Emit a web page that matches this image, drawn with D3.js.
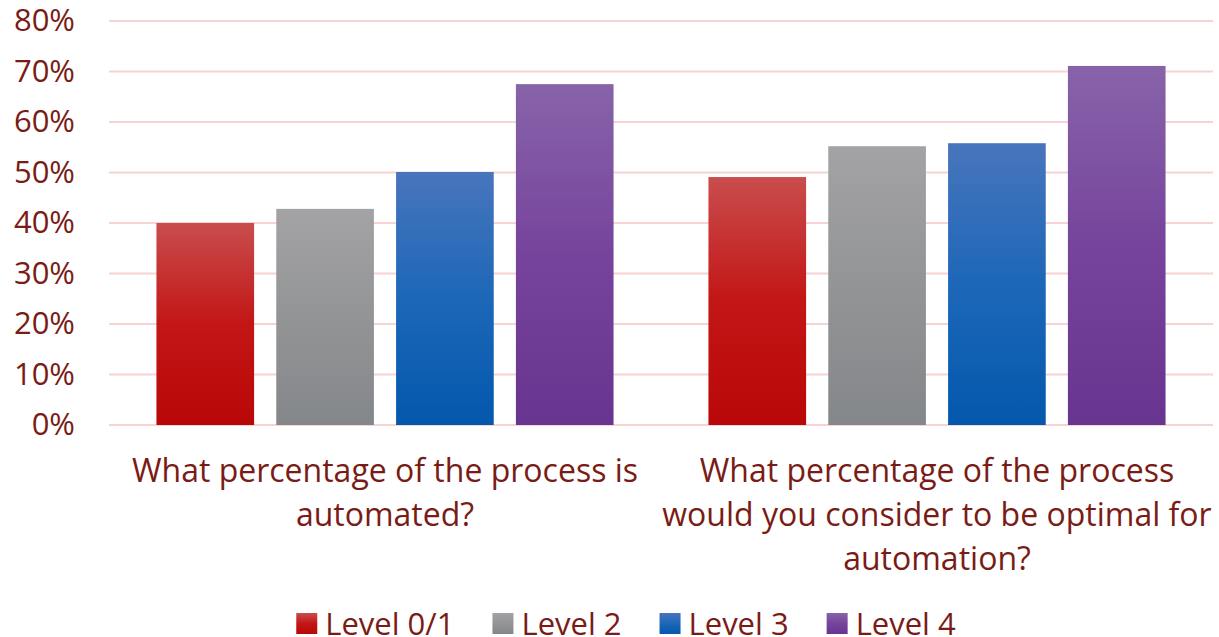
<!DOCTYPE html>
<html>
<head>
<meta charset="utf-8">
<script src="https://cdn.jsdelivr.net/npm/d3@7"></script>
<style>
  body { margin: 0; background: #fff; }
  text { font-family: "Open Sans", sans-serif; fill: #7a1c16; }
</style>
</head>
<body>
<div id="chart"></div>
<script>
// data
var categories = ["automated", "optimal"];
var categoryLines = [
  ["What percentage of the process is", "automated?"],
  ["What percentage of the process", "would you consider to be optimal for", "automation?"]
];
var seriesNames = ["Level 0/1", "Level 2", "Level 3", "Level 4"];
var values = [
  [0.400, 0.428, 0.501, 0.675],   // automated
  [0.491, 0.552, 0.558, 0.711]    // optimal
];
var yTicks = [0, 0.1, 0.2, 0.3, 0.4, 0.5, 0.6, 0.7, 0.8];

// gradient stops per series (top -> bottom)
var gradStops = [
  ["#c94d4d", "#c31616", "#b90707"],
  ["#a3a3a5", "#939496", "#84878a"],
  ["#4875bc", "#1d67b8", "#0358ad"],
  ["#8763a9", "#76449c", "#67358f"]
];

var width = 1219, height = 637;
var plotLeft = 109, plotRight = 1213, plotTop = 21, plotBottom = 425;
var fontSize = 31;

var svg = d3.select("#chart").append("svg")
  .attr("width", width)
  .attr("height", height);

var defs = svg.append("defs");
gradStops.forEach(function(s, i) {
  var g = defs.append("linearGradient")
    .attr("id", "grad" + i)
    .attr("x1", 0).attr("y1", 0).attr("x2", 0).attr("y2", 1);
  g.append("stop").attr("offset", "0%").attr("stop-color", s[0]);
  g.append("stop").attr("offset", "50%").attr("stop-color", s[1]);
  g.append("stop").attr("offset", "100%").attr("stop-color", s[2]);
});

var y = d3.scaleLinear().domain([0, 0.8]).range([plotBottom, plotTop]);

var x0 = d3.scaleBand()
  .domain(categories)
  .range([plotLeft, plotRight]);

var x1 = d3.scaleBand()
  .domain(seriesNames)
  .range([0, x0.bandwidth()])
  .paddingInner(0.185)
  .paddingOuter(0.396);

// gridlines
svg.append("g")
  .selectAll("line")
  .data(yTicks)
  .enter().append("line")
  .attr("x1", plotLeft)
  .attr("x2", plotRight)
  .attr("y1", function(d) { return y(d); })
  .attr("y2", function(d) { return y(d); })
  .attr("stroke", "#f8d3d3")
  .attr("stroke-width", 2);

// y axis labels
var yAxis = d3.axisLeft(y)
  .tickValues(yTicks)
  .tickFormat(d3.format(".0%"))
  .tickSize(0)
  .tickPadding(0);

var yg = svg.append("g")
  .attr("transform", "translate(75,0)")
  .call(yAxis);
yg.select(".domain").remove();
yg.selectAll("text")
  .attr("font-size", fontSize)
  .attr("dy", "0.32em")
  .style("font-family", "'Open Sans', sans-serif")
  .style("fill", "#7a1c16");

// bars
var groups = svg.append("g")
  .selectAll("g")
  .data(values)
  .enter().append("g")
  .attr("transform", function(d, i) { return "translate(" + x0(categories[i]) + ",0)"; });

groups.selectAll("rect")
  .data(function(d) { return d; })
  .enter().append("rect")
  .attr("x", function(d, i) { return x1(seriesNames[i]); })
  .attr("y", function(d) { return y(d); })
  .attr("width", x1.bandwidth())
  .attr("height", function(d) { return y(0) - y(d); })
  .attr("fill", function(d, i) { return "url(#grad" + i + ")"; });

// category labels
var lineHeight = 44;
categoryLines.forEach(function(lines, i) {
  var cx = x0(categories[i]) + x0.bandwidth() / 2;
  var t = svg.append("text")
    .attr("text-anchor", "middle")
    .attr("font-size", 32)
    .attr("x", cx)
    .attr("y", 482);
  lines.forEach(function(l, j) {
    t.append("tspan")
      .attr("x", cx)
      .attr("dy", j === 0 ? 0 : lineHeight)
      .text(l);
  });
});

// legend
var legend = svg.append("g");
var sq = 21, gapText = 8, gapItem = 38;
var items = legend.selectAll("g")
  .data(seriesNames)
  .enter().append("g");
items.append("rect")
  .attr("y", 613)
  .attr("width", sq)
  .attr("height", sq)
  .attr("fill", function(d, i) { return "url(#grad" + i + ")"; });
items.append("text")
  .attr("x", sq + gapText)
  .attr("y", 635)
  .attr("font-size", fontSize)
  .text(function(d) { return d; });

var offsets = [], pos = 0;
items.each(function(d, i) {
  var w = this.querySelector("text").getComputedTextLength();
  offsets.push(pos);
  pos += sq + gapText + w + gapItem;
});
var total = pos - gapItem;
var startX = 626 - total / 2;
items.attr("transform", function(d, i) { return "translate(" + (startX + offsets[i]) + ",0)"; });
</script>
</body>
</html>
